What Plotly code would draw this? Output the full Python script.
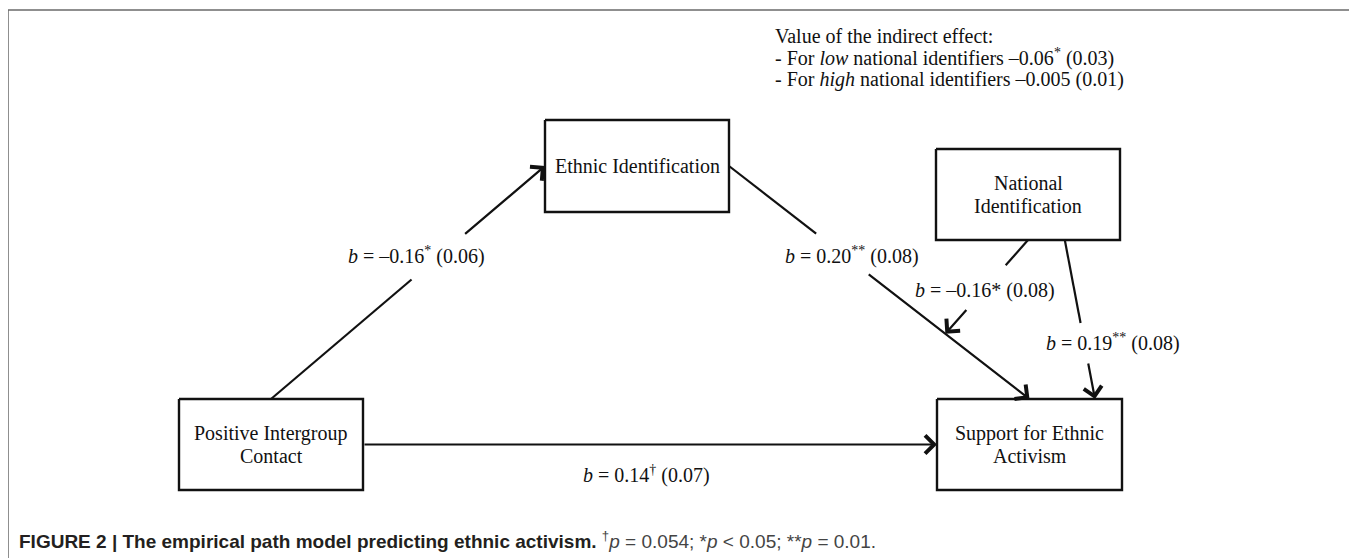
import plotly.graph_objects as go

# ---------------- data ----------------
node_keys = ["contact", "ethnic", "national", "support"]
node_labels = ["Positive Intergroup<br>Contact", "Ethnic Identification",
               "National<br>Identification", "Support for Ethnic<br>Activism"]

path_coefs = ["–0.16", "0.20", "0.14", "0.19", "–0.16"]
path_sig = ["<sup>*</sup>", "<sup>**</sup>", "<sup>†</sup>", "<sup>**</sup>", "*"]
path_se = ["0.06", "0.08", "0.07", "0.08", "0.08"]

indirect_lines = [
    "Value of the indirect effect:",
    "- For <i>low</i> national identifiers –0.06<sup>*</sup> (0.03)",
    "- For <i>high</i> national identifiers –0.005 (0.01)",
]
caption_bold = "FIGURE 2 | The empirical path model predicting ethnic activism."
caption_note = "<sup>†</sup><i>p</i> = 0.054; *<i>p</i> &lt; 0.05; **<i>p</i> = 0.01."

# ---------------- layout geometry ----------------
W, H = 1357, 558
OFF = 8  # page (body margin) offset compensation
boxes = {  # x0, x1, y0, y1 (pixels, y down)
    "contact": (179, 363, 399, 490),
    "ethnic": (545, 729, 120, 212),
    "national": (936, 1120, 149, 240),
    "support": (937, 1122, 399, 490),
}
# edges: source, anchor, target, anchor, label gap (fractions), label index, label pos
edges = [
    ("contact", (0.5, 0.0), "ethnic", (0.0, 0.5), (0.513, 0.703), 0, (416, 255)),
    ("ethnic", (1.0, 0.5), "support", (0.5, 0.0), (0.29, 0.46), 1, (852, 255)),
    ("contact", (1.0, 0.5), "support", (0.0, 0.5), None, 2, (646, 474)),
    ("national", (0.7, 1.0), "support", (0.854, 0.0), (0.522, 0.767), 3, (1113, 342)),
]
moderation = ("national", (0.5, 1.0), 1, 0.72, (0.27, 0.73), 4, (985, 290))

SERIF = "Liberation Serif, Times New Roman, serif"
SANS = "Liberation Sans, Arial, sans-serif"
INK = "#111111"
FS = 20


def anchor(key, a):
    x0, x1, y0, y1 = boxes[key]
    return (x0 + (x1 - x0) * a[0], y0 + (y1 - y0) * a[1])


def lerp(p, q, t):
    return (p[0] + (q[0] - p[0]) * t, p[1] + (q[1] - p[1]) * t)


fig = go.Figure()
annotations = []
shapes = []

# frame
shapes.append(dict(type="rect", xref="x", yref="y", x0=8, x1=1350, y0=10, y1=620,
                   line=dict(color="#6b6b6b", width=1.5), fillcolor="rgba(0,0,0,0)"))

# boxes + labels
for key, lab in zip(node_keys, node_labels):
    x0, x1, y0, y1 = boxes[key]
    fig.add_trace(go.Scatter(x=[x0, x1, x1, x0, x0], y=[y0, y0, y1, y1, y0], mode="lines",
                             line=dict(color=INK, width=2.4), hoverinfo="skip", showlegend=False))
    lines = lab.split("<br>")
    cy = (y0 + y1) / 2
    n = len(lines)
    for i, ln in enumerate(lines):
        yy = cy + (i - (n - 1) / 2) * 23
        annotations.append(dict(x=(x0 + x1) / 2, y=yy, xref="x", yref="y", text=ln, showarrow=False,
                                font=dict(family=SERIF, size=FS, color=INK),
                                xanchor="center", yanchor="middle"))


def label_text(i):
    return f"<i>b</i> = {path_coefs[i]}{path_sig[i]} ({path_se[i]})"


def draw_edge(p, q, gap, li, lpos):
    if gap is None:
        start = p
    else:
        g0 = lerp(p, q, gap[0])
        g1 = lerp(p, q, gap[1])
        fig.add_trace(go.Scatter(x=[p[0], g0[0]], y=[p[1], g0[1]], mode="lines",
                                 line=dict(color=INK, width=2.2), hoverinfo="skip", showlegend=False))
        start = g1
    annotations.append(dict(x=q[0], y=q[1], ax=start[0], ay=start[1], xref="x", yref="y",
                            axref="x", ayref="y", text="", showarrow=True, arrowhead=4,
                            arrowsize=1.6, arrowwidth=2.2, arrowcolor=INK, standoff=0))
    annotations.append(dict(x=lpos[0], y=lpos[1], xref="x", yref="y", text=label_text(li),
                            showarrow=False, font=dict(family=SERIF, size=FS, color=INK),
                            xanchor="center", yanchor="middle"))


edge_pts = []
for src, sa, dst, da, gap, li, lpos in edges:
    p, q = anchor(src, sa), anchor(dst, da)
    edge_pts.append((p, q))
    draw_edge(p, q, gap, li, lpos)

msrc, msa, medge, mt, mgap, mli, mlpos = moderation
mp = anchor(msrc, msa)
mq = lerp(edge_pts[medge][0], edge_pts[medge][1], mt)
draw_edge(mp, mq, mgap, mli, mlpos)

# indirect-effect text
for i, ln in enumerate(indirect_lines):
    annotations.append(dict(x=773, y=36 + i * 21.5, xref="x", yref="y", text=ln, showarrow=False,
                            font=dict(family=SERIF, size=FS, color=INK),
                            xanchor="left", yanchor="middle"))

# caption
annotations.append(dict(x=17, y=540, xref="x", yref="y",
                        text=f"<b>{caption_bold}</b> <span style='color:#444'>{caption_note}</span>",
                        showarrow=False, font=dict(family=SANS, size=19, color="#231f20"),
                        xanchor="left", yanchor="middle"))

fig.update_layout(
    width=W, height=H, margin=dict(l=0, r=0, t=0, b=0),
    paper_bgcolor="white", plot_bgcolor="white",
    xaxis=dict(range=[OFF, W + OFF], visible=False, fixedrange=True),
    yaxis=dict(range=[H + OFF, OFF], visible=False, fixedrange=True),
    annotations=annotations, shapes=shapes, showlegend=False,
)
fig.write_html("out.html")
